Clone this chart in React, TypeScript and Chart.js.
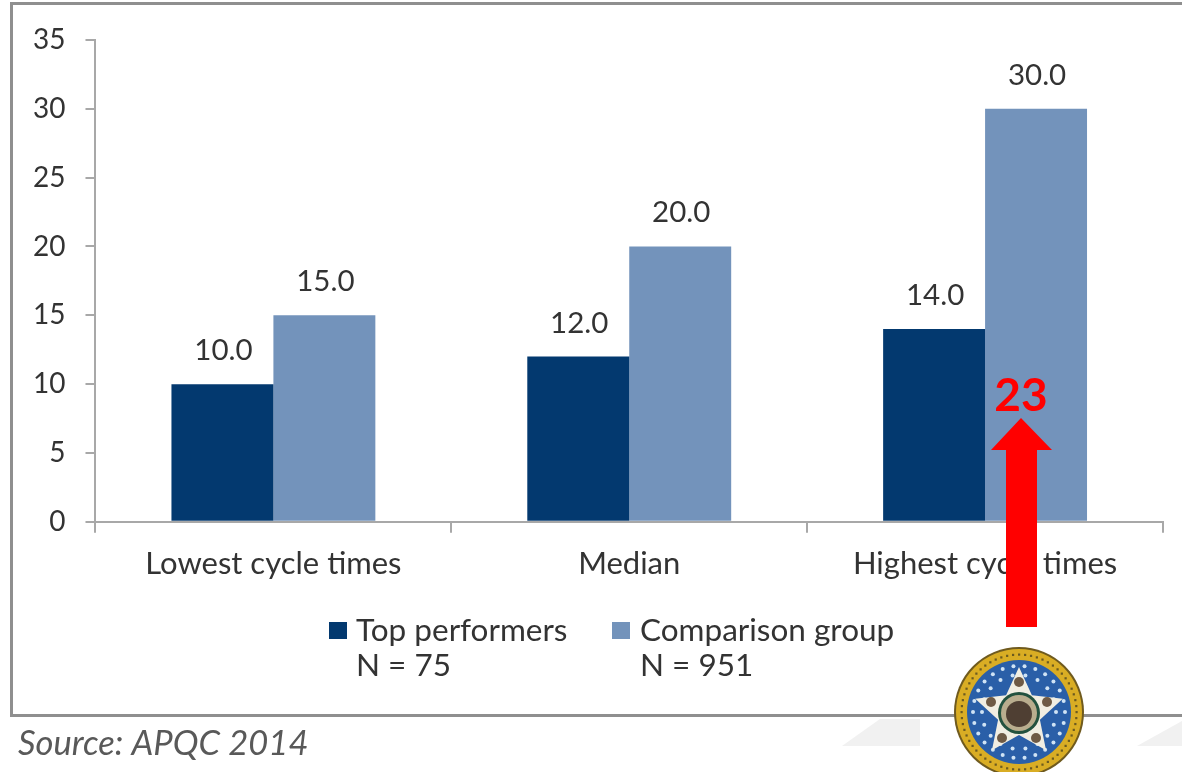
import React, { useEffect, useRef } from "react";
import { Chart, registerables } from "chart.js";

Chart.register(...registerables);

const categories = ["Lowest cycle times", "Median", "Highest cycle times"];
const topPerformers = [10, 12, 14];
const comparisonGroup = [15, 20, 30];
const legendTop = ["Top performers", "N = 75"];
const legendComparison = ["Comparison group", "N = 951"];
const sourceText = "Source: APQC 2014";
const markerText = "23";
const yMax = 35;
const yStep = 5;

const FONT = "Lato, 'Noto Sans', sans-serif";
const TEXT = "#333333";

function drawSeal(ctx: CanvasRenderingContext2D, cx: number, cy: number) {
  ctx.save();
  ctx.beginPath(); ctx.arc(cx, cy, 65, 0, Math.PI * 2); ctx.fillStyle = "#6f5a1e"; ctx.fill();
  ctx.beginPath(); ctx.arc(cx, cy, 63, 0, Math.PI * 2); ctx.fillStyle = "#d9ad24"; ctx.fill();
  ctx.fillStyle = "#6b5a20";
  for (let i = 0; i < 60; i++) {
    const a = (i / 60) * Math.PI * 2;
    ctx.fillRect(cx + Math.cos(a) * 57.5 - 1, cy + Math.sin(a) * 57.5 - 1, 2.2, 2.2);
  }
  ctx.beginPath(); ctx.arc(cx, cy, 52, 0, Math.PI * 2); ctx.fillStyle = "#2a5fa8"; ctx.fill();
  ctx.fillStyle = "#cfe3f5";
  for (let r = 0; r < 2; r++) {
    const rad = 37 + r * 9;
    const n = 18 + r * 8;
    for (let i = 0; i < n; i++) {
      const a = (i / n) * Math.PI * 2;
      ctx.beginPath(); ctx.arc(cx + Math.cos(a) * rad, cy + Math.sin(a) * rad, 2, 0, Math.PI * 2); ctx.fill();
    }
  }
  ctx.beginPath();
  for (let i = 0; i < 10; i++) {
    const a = -Math.PI / 2 + (i * Math.PI) / 5;
    const r = i % 2 === 0 ? 46 : 22;
    const x = cx + Math.cos(a) * r;
    const y = cy + 1 + Math.sin(a) * r;
    if (i === 0) ctx.moveTo(x, y); else ctx.lineTo(x, y);
  }
  ctx.closePath(); ctx.fillStyle = "#f1eee2"; ctx.fill();
  ctx.fillStyle = "#6e5a45";
  [[0, -30], [-28, -10], [28, -10], [-17, 26], [17, 26]].forEach(([dx, dy]) => {
    ctx.beginPath(); ctx.arc(cx + dx, cy + dy, 5, 0, Math.PI * 2); ctx.fill();
  });
  ctx.beginPath(); ctx.arc(cx, cy + 1, 21, 0, Math.PI * 2); ctx.fillStyle = "#23523f"; ctx.fill();
  ctx.beginPath(); ctx.arc(cx, cy + 1, 18, 0, Math.PI * 2); ctx.fillStyle = "#b9ad8e"; ctx.fill();
  ctx.beginPath(); ctx.arc(cx, cy + 2, 13, 0, Math.PI * 2); ctx.fillStyle = "#4f3f33"; ctx.fill();
  ctx.restore();
}

const decor = {
  id: "decor",
  beforeDraw(chart: any) {
    const ctx = chart.ctx as CanvasRenderingContext2D;
    ctx.save();
    ctx.fillStyle = "#ffffff";
    ctx.fillRect(0, 0, chart.width, chart.height);
    ctx.fillStyle = "#f1f1f1";
    ctx.beginPath(); ctx.moveTo(880, 719); ctx.lineTo(920, 719); ctx.lineTo(920, 746); ctx.lineTo(842, 746); ctx.closePath(); ctx.fill();
    ctx.beginPath(); ctx.moveTo(1182, 721); ctx.lineTo(1182, 746); ctx.lineTo(1137, 746); ctx.closePath(); ctx.fill();
    ctx.strokeStyle = "#8f8f8f";
    ctx.lineWidth = 3;
    ctx.beginPath();
    ctx.moveTo(1182, 3.5); ctx.lineTo(11.5, 3.5); ctx.lineTo(11.5, 715.5); ctx.lineTo(1182, 715.5);
    ctx.stroke();
    ctx.fillStyle = "#595959";
    ctx.font = `italic 34.6px ${FONT}`;
    ctx.textAlign = "left";
    ctx.textBaseline = "alphabetic";
    ctx.fillText(sourceText, 18, 755);
    ctx.restore();
  },
  afterDatasetsDraw(chart: any) {
    const ctx = chart.ctx as CanvasRenderingContext2D;
    ctx.save();
    ctx.fillStyle = TEXT;
    ctx.font = `29.5px ${FONT}`;
    ctx.textAlign = "center";
    ctx.textBaseline = "alphabetic";
    chart.data.datasets.forEach((ds: any, i: number) => {
      chart.getDatasetMeta(i).data.forEach((bar: any, j: number) => {
        ctx.fillText(Number(ds.data[j]).toFixed(1), bar.x + 1, bar.y - 24);
      });
    });
    // legend
    const swatchX = [329, 612];
    const textX = [356, 640];
    ctx.font = `31.5px ${FONT}`;
    ctx.textAlign = "left";
    chart.data.datasets.forEach((ds: any, i: number) => {
      ctx.fillStyle = ds.backgroundColor;
      ctx.fillRect(swatchX[i], 622, 18, 17);
      ctx.fillStyle = TEXT;
      (ds.label as string[]).forEach((line, k) => ctx.fillText(line, textX[i], 641 + k * 35));
    });
    ctx.restore();
  },
  afterDraw(chart: any) {
    const ctx = chart.ctx as CanvasRenderingContext2D;
    ctx.save();
    ctx.fillStyle = "#ff0000";
    ctx.beginPath();
    ctx.moveTo(1021, 418); ctx.lineTo(1052, 450); ctx.lineTo(1037, 450); ctx.lineTo(1037, 627);
    ctx.lineTo(1006, 627); ctx.lineTo(1006, 450); ctx.lineTo(991, 450); ctx.closePath();
    ctx.fill();
    ctx.font = `bold 46px ${FONT}`;
    ctx.textAlign = "center";
    ctx.textBaseline = "alphabetic";
    ctx.fillText(markerText, 1021, 411);
    drawSeal(ctx, 1019, 712);
    ctx.restore();
  },
};

export default function App() {
  const ref = useRef<HTMLCanvasElement>(null);
  useEffect(() => {
    document.body.style.margin = "0";
    const chart = new Chart(ref.current!, {
      type: "bar",
      data: {
        labels: categories,
        datasets: [
          { label: legendTop as any, data: topPerformers, backgroundColor: "#03396f", categoryPercentage: 0.573, barPercentage: 1 },
          { label: legendComparison as any, data: comparisonGroup, backgroundColor: "#7393bb", categoryPercentage: 0.573, barPercentage: 1 },
        ],
      },
      options: {
        animation: false,
        responsive: false,
        layout: { padding: { left: 13, right: 19, top: 40, bottom: 176 } },
        plugins: {
          tooltip: { enabled: false },
          title: { display: false },
          legend: { display: false },
        },
        scales: {
          x: {
            grid: { drawOnChartArea: false, drawTicks: true, tickLength: 11, color: "#a8a8a8", lineWidth: 2 },
            border: { color: "#a8a8a8", width: 2 },
            ticks: { color: TEXT, font: { family: FONT, size: 31 }, padding: 13, maxRotation: 0 },
          },
          y: {
            min: 0,
            max: yMax,
            ticks: { stepSize: yStep, color: TEXT, font: { family: FONT, size: 28 }, padding: 20 },
            grid: { drawOnChartArea: false, drawTicks: true, tickLength: 10, color: "#a8a8a8", lineWidth: 2 },
            border: { color: "#a8a8a8", width: 2 },
          },
        },
      },
      plugins: [decor],
    } as any);
    return () => chart.destroy();
  }, []);
  return <canvas ref={ref} width={1182} height={772} style={{ display: "block", filter: "blur(0.5px)" }} />;
}
